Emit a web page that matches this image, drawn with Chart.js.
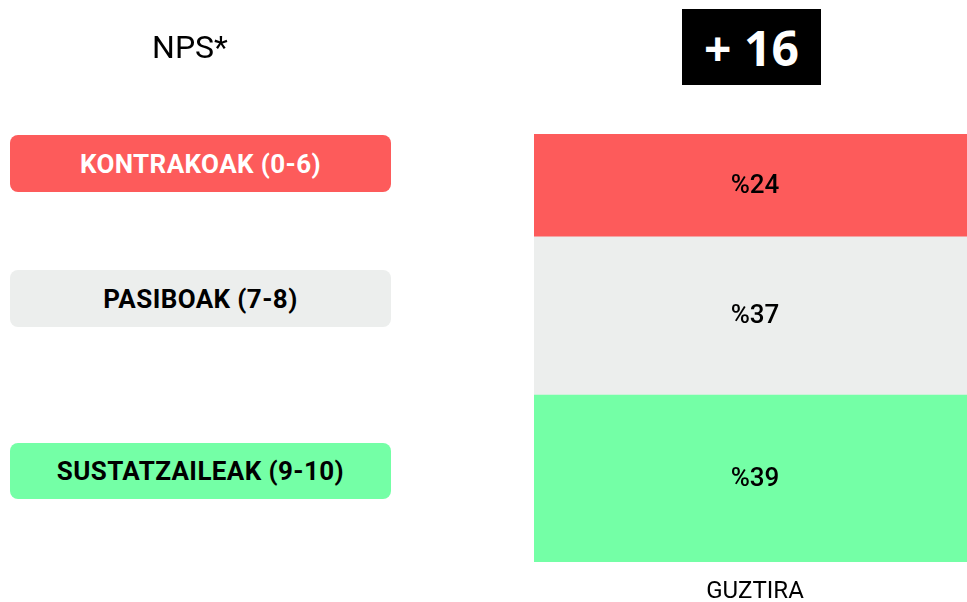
<!DOCTYPE html>
<html>
<head>
<meta charset="utf-8">
<script src="https://cdn.jsdelivr.net/npm/chart.js@4/dist/chart.umd.min.js"></script>
<style>
  html, body { margin: 0; padding: 0; background: #fff; overflow: hidden; width: 967px; height: 602px; }
  #wrap { position: absolute; left: 0; top: 0; width: 976px; height: 602px; }
  .ov { position: absolute; font-family: Roboto, sans-serif; display: flex; align-items: center; justify-content: center; box-sizing: border-box; }
  .box { left: 10px; width: 381px; border-radius: 8px; font-weight: bold; font-size: 26px; letter-spacing: 0.4px; }
</style>
</head>
<body>
<div id="wrap"><canvas id="c" width="976" height="602"></canvas></div>
<div class="ov" id="title" style="left:110px; top:27px; width:160px; height:40px; font-size:32px; color:#000;"></div>
<div class="ov" id="score" style="left:682px; top:9px; width:139px; height:76px; background:#000; color:#fff; font-family:'Open Sans', sans-serif; font-weight:bold; font-size:48px;"></div>
<div class="ov box" id="b0" style="top:135px; height:57px;"></div>
<div class="ov box" id="b1" style="top:270px; height:57px;"></div>
<div class="ov box" id="b2" style="top:443px; height:56px;"></div>
<script>
// ---- data ----
const categories = ["GUZTIRA"];
const segmentNames = ["KONTRAKOAK (0-6)", "PASIBOAK (7-8)", "SUSTATZAILEAK (9-10)"];
const kontrakoak = [24];
const pasiboak = [37];
const sustatzaileak = [39];
const npsTitle = "NPS*";
const npsScore = "+ 16";

// ---- styles ----
const colors = ["#FD5B5B", "#ECEEED", "#74FFA6"];
const boxTextColors = ["#FFFFFF", "#000000", "#000000"];

document.getElementById('title').textContent = npsTitle;
document.getElementById('score').textContent = npsScore;
segmentNames.forEach((n, i) => {
  const el = document.getElementById('b' + i);
  el.textContent = n;
  el.style.background = colors[i];
  el.style.color = boxTextColors[i];
});

const valueLabels = {
  id: 'valueLabels',
  afterDatasetsDraw(chart) {
    const ctx = chart.ctx;
    ctx.save();
    ctx.font = '500 26px Roboto';
    ctx.fillStyle = '#000';
    ctx.textAlign = 'center';
    ctx.textBaseline = 'middle';
    chart.data.datasets.forEach((ds, di) => {
      const meta = chart.getDatasetMeta(di);
      meta.data.forEach((el, i) => {
        const y = (el.y + el.base) / 2 + 1;
        ctx.fillText('%' + ds.data[i], el.x, y);
      });
    });
    ctx.restore();
  }
};

new Chart(document.getElementById('c'), {
  type: 'bar',
  data: {
    labels: categories,
    datasets: [
      { label: segmentNames[2], data: sustatzaileak, backgroundColor: colors[2] },
      { label: segmentNames[1], data: pasiboak, backgroundColor: colors[1] },
      { label: segmentNames[0], data: kontrakoak, backgroundColor: colors[0] }
    ]
  },
  options: {
    responsive: false,
    animation: false,
    devicePixelRatio: 1,
    barPercentage: 1,
    categoryPercentage: 1,
    layout: { padding: { left: 534, top: 134, right: 0, bottom: 0 } },
    plugins: { legend: { display: false }, tooltip: { enabled: false } },
    scales: {
      x: {
        stacked: true,
        grid: { display: false, drawTicks: false },
        border: { display: false },
        ticks: { color: '#000', font: { family: 'Roboto', size: 24 }, padding: 16 },
        afterFit: s => { s.height = 40; }
      },
      y: {
        stacked: true,
        display: false,
        min: 0,
        max: 100
      }
    }
  },
  plugins: [valueLabels]
});
</script>
</body>
</html>
